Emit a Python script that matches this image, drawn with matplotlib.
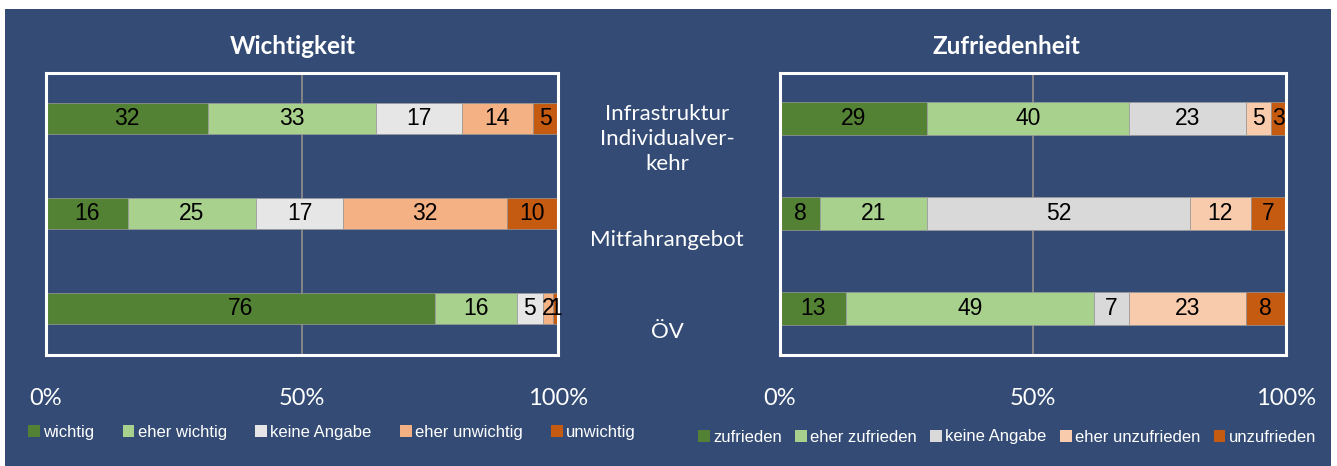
import numpy as np
import matplotlib.pyplot as plt
from matplotlib.patches import Rectangle, Patch

# data
categories = ["Infrastruktur\nIndividualver-\nkehr", "Mitfahrangebot", "ÖV"]

wichtig_labels = ["wichtig", "eher wichtig", "keine Angabe", "eher unwichtig", "unwichtig"]
wichtig_vals = [
    [32, 33, 17, 14, 5],
    [16, 25, 17, 32, 10],
    [76, 16, 5, 2, 1],
]

zufr_labels = ["zufrieden", "eher zufrieden", "keine Angabe", "eher unzufrieden", "unzufrieden"]
zufr_vals = [
    [29, 40, 23, 5, 3],
    [8, 21, 52, 12, 7],
    [13, 49, 7, 23, 8],
]

xticks = [0, 50, 100]
xticklabels = ["0%", "50%", "100%"]

colors_w = ["#548235", "#A9D18E", "#E7E6E6", "#F4B183", "#C55A11"]
colors_z = ["#548235", "#A9D18E", "#D9D9D9", "#F8CBAD", "#C55A11"]

BG = "#344C75"
W, H = 1337, 466
calibri = ["Lato", "DejaVu Sans"]
narrow = ["Liberation Sans Narrow", "Liberation Sans", "DejaVu Sans"]

fig = plt.figure(figsize=(W / 100, H / 100), dpi=100)
fig.patch.set_facecolor("white")
fig.patches.append(Rectangle((5 / W, 0), 1326 / W, 1 - 9 / H, transform=fig.transFigure,
                             facecolor=BG, edgecolor="none", zorder=-5))


def px(x0, y0, x1, y1):
    return [x0 / W, 1 - y1 / H, (x1 - x0) / W, (y1 - y0) / H]


def make_panel(rect, vals, colors, title, bar_h, title_x):
    ax = fig.add_axes(rect)
    ax.set_facecolor(BG)
    ys = np.arange(len(vals))
    for i, row in enumerate(vals):
        row = np.array(row, dtype=float)
        pct = row / row.sum() * 100
        left = 0
        for j, (v, p) in enumerate(zip(row, pct)):
            ax.barh(ys[i], p, left=left, height=bar_h, color=colors[j],
                    edgecolor="#9a9a9a", linewidth=0.5, zorder=3)
            ax.text(left + p / 2, ys[i], "%d" % v, ha="center", va="center",
                    fontsize=16.5, family=narrow, color="black", zorder=6,
                    clip_on=False)
            left += p
    ax.axvline(50, color="#8a8a8a", lw=1.3, zorder=1)
    ax.set_xlim(0, 100)
    ax.set_ylim(2.49, -0.48)
    ax.set_yticks([])
    ax.set_xticks(xticks)
    ax.set_xticklabels(xticklabels, family=calibri, fontsize=17, color="white")
    ax.tick_params(axis="x", length=0, pad=24)
    for s in ax.spines.values():
        s.set_color("white")
        s.set_linewidth(2.2)
        s.set_zorder(5)
    fig.text(title_x / W, 1 - 47 / H, title, ha="center", va="center",
             fontsize=17.5, fontweight="bold", color="white", family=calibri)
    return ax


axl = make_panel(px(46, 73, 558, 355), wichtig_vals, colors_w,
                 "Wichtigkeit", 0.32, 293)
axr = make_panel(px(780, 73, 1286, 355), zufr_vals, colors_z,
                 "Zufriedenheit", 0.35, 1006)

# category labels between the panels
cat_y = [139, 240, 332]
for lab, y in zip(categories, cat_y):
    fig.text(667 / W, 1 - y / H, lab, ha="center", va="center", color="white",
             fontsize=16, family=calibri, linespacing=1.3)

# legends
for labels, colors, cx, cy, cs in [(wichtig_labels, colors_w, 332, 432, 1.7),
                                   (zufr_labels, colors_z, 1007, 437, 0.8)]:
    handles = [Patch(facecolor=c, edgecolor="none") for c in colors]
    fig.legend(handles, labels, loc="center", bbox_to_anchor=(cx / W, 1 - cy / H),
               ncol=5, frameon=False, handlelength=0.7, handleheight=0.7,
               handletextpad=0.2, columnspacing=cs,
               prop={"family": narrow, "size": 12}, labelcolor="white")

plt.savefig("out.png", dpi=100, facecolor=fig.get_facecolor())
